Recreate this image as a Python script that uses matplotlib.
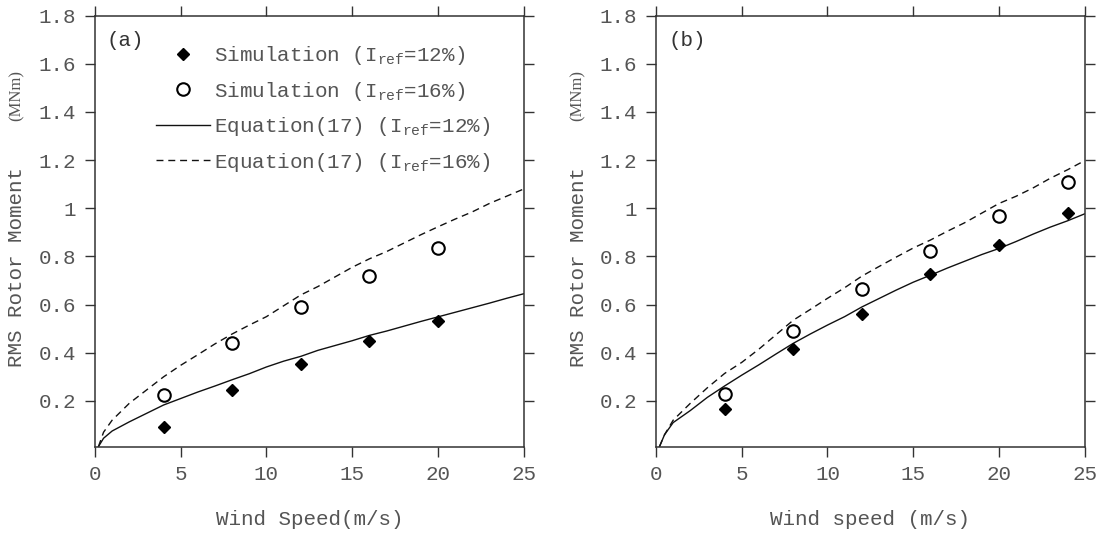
import numpy as np
import matplotlib
matplotlib.use("Agg")
import matplotlib.pyplot as plt

plt.rcParams['font.family'] = ['Liberation Mono', 'DejaVu Sans Mono']
plt.rcParams['mathtext.fontset'] = 'custom'
plt.rcParams['mathtext.rm'] = 'Liberation Mono'
plt.rcParams['mathtext.it'] = 'Liberation Mono'

# ---------------------------------------------------------------------------
# data: simulated RMS rotor moment and Equation (17) curves
# ---------------------------------------------------------------------------
sim_speed = [4, 8, 12, 16, 20, 24]

# (a)
a_sim12 = [0.093, 0.246, 0.352, 0.447, 0.531]
a_sim16 = [0.226, 0.441, 0.588, 0.720, 0.835]

eq_speed = [0.2, 0.5, 1, 2, 3, 4, 5, 6, 7, 8, 9, 10, 11, 12, 13,
            14, 15, 16, 17, 18, 19, 20, 21, 22, 23, 24, 25]
a_eq12 = [0.01, 0.045, 0.075, 0.113, 0.148, 0.183, 0.21, 0.237, 0.262, 0.288,
          0.313, 0.341, 0.365, 0.385, 0.41, 0.43, 0.45, 0.472, 0.49, 0.51,
          0.53, 0.549, 0.568, 0.587, 0.606, 0.626, 0.645]
a_eq16 = [0.01, 0.07, 0.12, 0.19, 0.245, 0.30, 0.348, 0.392, 0.437, 0.478,
          0.515, 0.55, 0.595, 0.64, 0.675, 0.715, 0.755, 0.79, 0.82, 0.855,
          0.89, 0.923, 0.955, 0.985, 1.02, 1.05, 1.08]

# (b)
b_sim12 = [0.168, 0.415, 0.563, 0.727, 0.847, 0.980]
b_sim16 = [0.228, 0.491, 0.663, 0.822, 0.968, 1.111]

b_eq12 = [0.01, 0.06, 0.11, 0.16, 0.215, 0.262, 0.307, 0.35, 0.395, 0.439,
          0.478, 0.515, 0.55, 0.59, 0.625, 0.66, 0.693, 0.722, 0.752, 0.78,
          0.808, 0.833, 0.862, 0.893, 0.922, 0.948, 0.977]
b_eq16 = [0.01, 0.06, 0.12, 0.19, 0.255, 0.314, 0.36, 0.415, 0.475, 0.535,
          0.58, 0.626, 0.67, 0.718, 0.758, 0.797, 0.835, 0.868, 0.905, 0.94,
          0.98, 1.02, 1.05, 1.085, 1.125, 1.16, 1.198]

y_ticks = [0.2, 0.4, 0.6, 0.8, 1.0, 1.2, 1.4, 1.6, 1.8]
y_ticklabels = ['0.2', '0.4', '0.6', '0.8', '1', '1.2', '1.4', '1.6', '1.8']
x_ticks = [0, 5, 10, 15, 20, 25]

labels = ['Simulation (I$_\\mathrm{ref}$=12%)',
          'Simulation (I$_\\mathrm{ref}$=16%)',
          'Equation(17) (I$_\\mathrm{ref}$=12%)',
          'Equation(17) (I$_\\mathrm{ref}$=16%)']

TXT = '#555555'
AX = '#333333'
FS = 15

fig = plt.figure(figsize=(11.02, 5.33), dpi=100)
ax_a = fig.add_axes([0.0862, 0.162, 0.389, 0.8086])
ax_b = fig.add_axes([0.5953, 0.162, 0.389, 0.8086])


def style_axes(ax, xlabel, tag):
    ax.set_xlim(0, 25)
    ax.set_ylim(0.01, 1.8)
    ax.set_xticks(x_ticks)
    ax.set_yticks(y_ticks)
    ax.set_yticklabels(y_ticklabels)
    ax.tick_params(direction='out', length=7.5, width=1.0, color=AX,
                   labelsize=FS, labelcolor=TXT, pad=6,
                   top=True, right=True)
    for s in ax.spines.values():
        s.set_color(AX)
        s.set_linewidth(1.1)
    ax.set_xlabel(xlabel, fontsize=FS, color=TXT, labelpad=18.5)
    ax.text(0.028, 0.965, tag, transform=ax.transAxes, fontsize=FS,
            color='#333333', va='top', ha='left')
    # y label: main text plus the unit in a smaller serif face
    ax.text(-0.182, 0.185, 'RMS Rotor Moment', transform=ax.transAxes,
            rotation=90, fontsize=FS, color=TXT, ha='center', va='bottom')
    ax.text(-0.182, 0.755, '(MNm)', transform=ax.transAxes, rotation=90,
            fontsize=12, color=TXT, ha='center', va='bottom',
            family='Liberation Serif')


def draw(ax, sim12, sim16, eq12, eq16):
    n12 = len(sim12)
    n16 = len(sim16)
    ax.plot(sim_speed[:n12], sim12, linestyle='none', marker='D',
            markersize=6.5, color='black', label=labels[0], zorder=3)
    ax.plot(sim_speed[:n16], sim16, linestyle='none', marker='o',
            markersize=9, markerfacecolor='white', markeredgecolor='black',
            markeredgewidth=1.5, label=labels[1], zorder=3)
    ax.plot(eq_speed, eq12, color='#111111', linewidth=1.0, label=labels[2])
    ax.plot(eq_speed, eq16, color='#111111', linewidth=1.0,
            dashes=(5, 3.5), label=labels[3])


draw(ax_a, a_sim12, a_sim16, a_eq12, a_eq16)
draw(ax_b, b_sim12, b_sim16, b_eq12, b_eq16)

style_axes(ax_a, 'Wind Speed(m/s)', '(a)')
style_axes(ax_b, 'Wind speed (m/s)', '(b)')

leg = ax_a.legend(loc='upper left', bbox_to_anchor=(0.142, 0.934),
                  frameon=False, fontsize=FS, handlelength=2.6,
                  handletextpad=0.2, labelspacing=0.6, borderpad=0,
                  borderaxespad=0)
for t in leg.get_texts():
    t.set_color(TXT)

fig.savefig('out.png', dpi=100)
